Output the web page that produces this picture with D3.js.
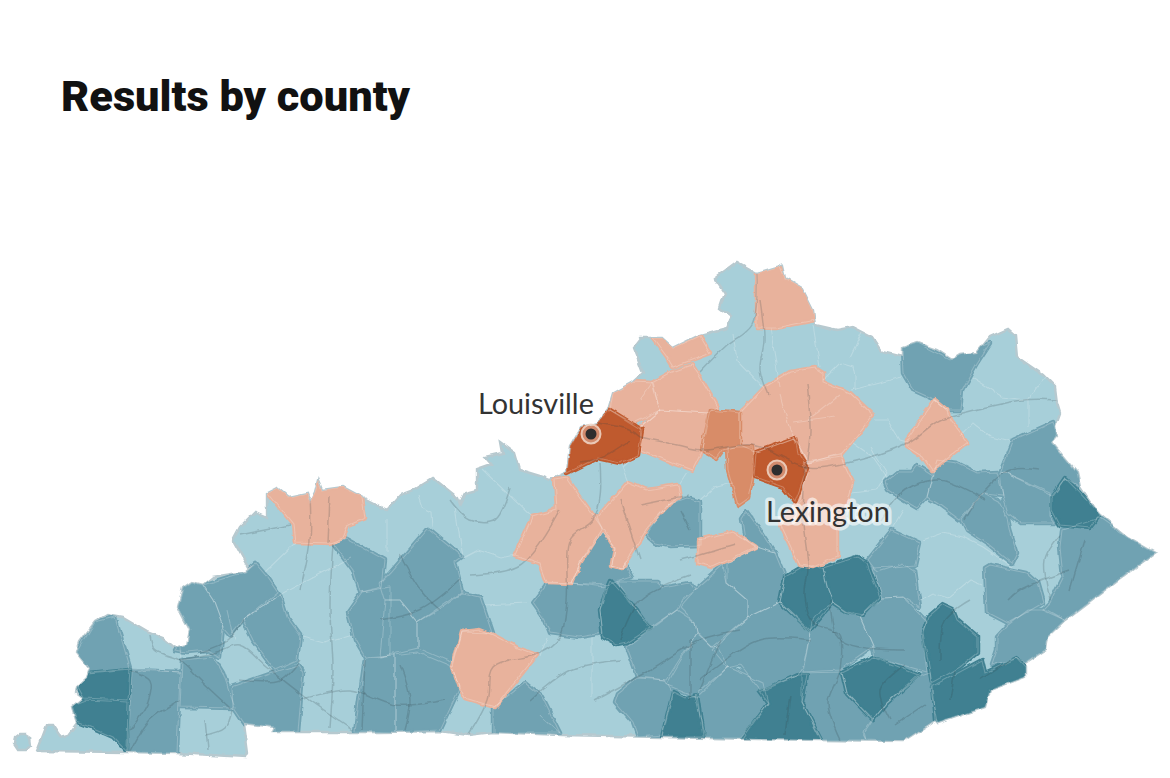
<!DOCTYPE html>
<html>
<head>
<meta charset="utf-8">
<script src="https://cdn.jsdelivr.net/npm/d3@7"></script>
<style>
  body { margin: 0; background: #fff; }
  text { font-family: Lato, sans-serif; }
</style>
</head>
<body>
<svg id="chart"></svg>
<script>
// Kentucky county results in map units.
// anything not listed in a margin array falls in the light blue bin (the state fill)
const stateOutline = [[37,751],[47,725],[52,725],[60,737],[68,735],[77,723],[72,707],[83,698],[76,693],[77,687],[87,678],[90,668],[77,652],[80,642],[95,622],[107,615],[123,618],[147,632],[163,638],[175,648],[187,645],[190,630],[178,607],[183,588],[192,582],[203,585],[213,577],[245,572],[255,563],[248,567],[233,540],[240,527],[255,512],[267,517],[267,493],[277,488],[288,497],[307,493],[310,502],[315,492],[318,480],[322,490],[343,487],[358,495],[387,510],[400,495],[413,490],[433,478],[438,482],[458,498],[460,503],[465,493],[477,490],[477,470],[492,465],[485,457],[502,453],[500,442],[515,453],[520,470],[543,477],[550,480],[567,472],[570,447],[582,427],[597,423],[608,410],[613,393],[633,382],[643,373],[637,357],[633,347],[640,338],[662,338],[673,348],[700,335],[727,328],[732,317],[720,308],[725,293],[715,278],[737,262],[757,273],[777,267],[782,265],[785,278],[802,288],[813,310],[815,325],[837,330],[853,327],[872,337],[882,352],[902,357],[902,348],[917,343],[937,350],[952,360],[960,355],[977,353],[990,337],[1008,329],[1015,335],[1017,357],[1043,375],[1055,387],[1057,403],[1060,413],[1055,427],[1057,437],[1052,443],[1077,473],[1080,487],[1093,507],[1100,515],[1127,537],[1155,553],[1127,573],[1065,620],[1047,637],[1045,650],[1025,663],[1025,677],[990,690],[985,707],[938,723],[935,720],[903,741],[822,740],[760,739],[562,735],[493,732],[468,735],[440,731],[380,732],[298,732],[273,732],[275,727],[243,723],[247,753],[245,757],[177,753],[128,752]];
const kentuckyBend = [[15,737],[19,734],[25,734],[30,737],[31,745],[26,750],[18,750],[14,744]];

const blueMid = [
  [[77,652],[95,622],[115,617],[130,668],[90,672]],
  [[132,670],[180,672],[177,753],[128,752]],
  [[182,660],[213,657],[223,673],[235,708],[180,707]],
  [[178,607],[183,588],[192,582],[203,585],[213,600],[223,627],[220,657],[207,650],[187,652],[175,650],[190,630]],
  [[203,585],[245,572],[255,563],[267,577],[278,593],[243,620],[230,635],[223,627],[213,600]],
  [[243,620],[280,595],[287,617],[300,635],[297,660],[275,670],[253,640]],
  [[232,687],[275,672],[298,665],[303,673],[298,732],[275,732],[275,727],[243,723],[233,708]],
  [[365,658],[395,655],[395,732],[355,731]],
  [[395,655],[417,652],[453,667],[460,687],[440,730],[395,732]],
  [[333,543],[347,539],[385,560],[382,587],[360,592],[353,570]],
  [[348,612],[362,592],[390,587],[390,655],[365,657],[355,640]],
  [[380,583],[390,573],[410,550],[428,529],[462,557],[455,562],[462,592],[418,622],[400,600],[385,600]],
  [[385,600],[400,600],[418,622],[418,648],[380,657]],
  [[462,593],[480,597],[492,633],[462,632],[453,663],[418,648],[418,622],[443,607]],
  [[493,707],[525,683],[542,697],[560,733],[493,733]],
  [[602,532],[615,547],[612,565],[622,568],[625,563],[632,577],[607,585],[572,583],[580,563]],
  [[533,603],[548,583],[572,583],[605,587],[600,610],[603,633],[580,637],[550,633],[545,620]],
  [[618,582],[657,582],[663,588],[690,583],[695,590],[682,600],[677,610],[652,627],[637,610],[620,587]],
  [[627,647],[650,630],[677,610],[695,622],[697,633],[667,680],[638,677]],
  [[680,607],[695,590],[723,565],[727,583],[747,600],[747,618],[712,647],[697,632],[695,622]],
  [[646,535],[667,505],[687,498],[700,502],[700,545],[670,546],[655,543]],
  [[727,563],[757,547],[775,553],[785,577],[780,602],[747,618],[747,600],[727,583]],
  [[747,512],[760,530],[775,553],[757,547],[745,540],[742,520]],
  [[712,650],[747,618],[780,602],[810,632],[803,667],[798,675],[760,690],[740,665],[727,668]],
  [[718,648],[728,667],[697,697],[667,685],[697,633],[712,647]],
  [[637,678],[665,680],[672,692],[662,735],[638,737],[633,723],[615,702],[618,693]],
  [[695,695],[728,667],[763,683],[768,703],[740,738],[705,738]],
  [[802,673],[842,672],[847,693],[872,720],[863,732],[867,740],[822,740],[802,703]],
  [[865,732],[873,720],[887,703],[918,677],[930,673],[932,697],[937,723],[905,742],[867,740]],
  [[803,672],[812,622],[822,610],[833,603],[847,613],[860,617],[873,647],[840,670]],
  [[860,617],[883,598],[903,597],[927,622],[922,633],[927,672],[875,657],[873,647]],
  [[872,568],[893,567],[903,563],[915,570],[920,607],[903,597],[883,598]],
  [[868,560],[892,530],[920,543],[915,565],[893,567],[877,572]],
  [[985,568],[990,565],[1027,573],[1037,582],[1043,603],[1008,623],[987,612]],
  [[997,637],[1008,625],[1028,610],[1047,610],[1065,620],[1047,637],[1045,650],[1025,663],[1017,658],[992,665],[997,650]],
  [[1062,530],[1100,518],[1127,537],[1155,553],[1127,573],[1065,620],[1043,610],[1050,603],[1063,577],[1060,547]],
  [[1000,473],[1005,472],[1050,492],[1050,517],[1055,523],[1020,523],[1008,513],[1003,497]],
  [[1000,473],[1013,440],[1053,422],[1057,437],[1052,443],[1077,473],[1080,487],[1065,478],[1052,495],[1005,472]],
  [[927,497],[933,473],[937,460],[957,463],[977,473],[997,472],[1003,495],[983,493],[960,520],[937,503]],
  [[885,482],[897,472],[912,472],[917,465],[933,475],[927,497],[917,508],[900,498],[888,490]],
  [[962,520],[983,493],[1000,502],[1008,517],[1010,530],[1017,553],[1012,563],[987,543],[967,530]],
  [[902,348],[917,343],[950,360],[960,355],[990,343],[977,363],[962,390],[960,410],[947,410],[935,400],[913,390],[903,373]]
];
const blueDark = [
  [[77,687],[88,673],[130,669],[128,700],[83,698]],
  [[72,705],[85,700],[128,702],[127,752],[113,737],[90,727],[77,722]],
  [[610,580],[637,610],[650,628],[627,643],[617,645],[603,637],[600,610],[607,587]],
  [[802,567],[823,568],[828,590],[833,603],[810,630],[780,602],[785,577]],
  [[823,568],[857,557],[867,563],[880,597],[863,615],[847,612],[833,603],[827,587]],
  [[673,692],[685,698],[697,695],[703,737],[662,737]],
  [[768,703],[760,692],[798,675],[807,675],[802,703],[822,742],[740,742]],
  [[842,672],[873,657],[918,675],[887,703],[873,720],[847,693]],
  [[932,687],[982,660],[985,673],[1017,658],[1025,667],[1025,677],[990,690],[985,707],[938,723],[935,720]],
  [[942,605],[953,610],[957,620],[977,637],[977,653],[960,667],[943,677],[932,683],[923,633],[928,617]],
  [[1052,497],[1065,478],[1077,490],[1100,515],[1090,528],[1060,525],[1052,510]]
];
const orangeLight = [
  [[267,493],[277,488],[288,497],[307,493],[310,502],[315,492],[318,480],[322,490],[343,487],[362,497],[365,518],[348,525],[343,538],[330,543],[295,542],[293,525]],
  [[462,632],[480,630],[493,635],[518,648],[537,655],[527,667],[495,707],[465,698],[460,688],[453,667]],
  [[532,517],[557,510],[555,480],[567,478],[580,497],[593,515],[602,528],[580,563],[572,583],[547,582],[540,563],[515,555]],
  [[597,518],[628,482],[647,490],[678,485],[680,497],[670,503],[647,528],[622,568],[612,565],[615,548],[602,528]],
  [[698,540],[732,532],[755,547],[728,560],[713,567],[698,563]],
  [[613,393],[633,382],[653,383],[660,410],[633,423],[610,410]],
  [[640,427],[660,410],[707,413],[702,450],[692,470],[673,463],[642,450]],
  [[652,383],[670,373],[692,365],[700,377],[718,407],[707,413],[660,410]],
  [[653,338],[663,338],[673,348],[700,336],[710,353],[673,367],[667,357]],
  [[740,413],[765,387],[790,372],[815,368],[823,373],[823,382],[850,393],[873,415],[853,440],[842,453],[808,463],[795,438],[757,452],[740,445]],
  [[803,463],[840,455],[853,483],[848,500],[837,530],[837,557],[813,567],[800,565],[780,523],[800,500],[808,473]],
  [[757,273],[780,266],[785,278],[803,288],[813,310],[815,320],[775,328],[757,328]],
  [[907,440],[935,400],[947,410],[950,420],[967,442],[932,470],[923,457],[907,447]]
];
const orangeMid = [
  [[710,410],[740,413],[740,445],[723,450],[717,458],[702,450],[707,423]],
  [[727,447],[753,447],[755,467],[748,498],[738,505],[728,470]]
];
const orangeDark = [
  [[610,410],[642,430],[638,455],[620,463],[597,458],[567,473],[570,447],[582,427],[597,423]],
  [[755,477],[757,452],[795,438],[798,453],[807,467],[802,483],[795,502],[783,487],[763,480]]
];

// county lines inside same-colored stretches
const countyLines = [
  [[295,543],[265,572]],[[350,558],[283,593],[243,620]],[[302,637],[325,643],[353,635]],
  [[483,470],[532,517]],[[455,508],[463,557]],[[418,495],[422,507],[432,512],[433,527]],
  [[387,520],[387,553]],[[463,558],[478,550],[502,558],[515,555]],[[485,605],[527,603]],
  [[592,637],[592,697]],[[547,637],[540,657]],[[628,482],[622,467],[633,457]],
  [[680,483],[687,472]],[[700,500],[713,488],[733,483]],[[770,328],[780,387]],
  [[813,325],[820,367]],[[823,380],[840,363],[853,367],[855,377],[855,390]],
  [[852,390],[902,377]],[[862,332],[850,357]],[[972,378],[1002,397],[1027,400],[1045,377]],
  [[1028,400],[1028,425]],[[875,420],[888,420],[900,440],[907,442]],
  [[853,443],[873,457],[887,477]],[[960,437],[973,423],[990,437],[1010,442]],
  [[733,333],[737,360],[763,387]],[[923,540],[942,533],[963,537],[983,547],[1013,567]],
  [[920,600],[933,593],[948,598],[970,580],[982,585]],[[903,510],[893,527]],
  [[840,457],[808,463]],[[853,493],[877,490],[887,473],[870,447]],[[180,635],[182,660]],
  [[130,668],[180,672]],[[228,610],[235,640]],[[540,715],[560,733]],[[640,400],[652,383]],
  [[660,410],[640,427]],[[780,395],[790,430],[808,463]],[[808,420],[840,395]],[[793,423],[835,417]]
];

// highways and parkways
const roads = [
  [[180,660],[213,653],[240,645],[267,667],[300,693],[353,730]],
  [[333,543],[330,610],[333,667],[330,727]],
  [[150,635],[155,650],[180,660],[200,680],[230,708]],
  [[600,463],[600,497],[593,520],[570,540],[567,600],[560,637],[540,653],[493,667],[487,700],[468,735]],
  [[640,437],[677,445],[703,450],[753,445],[808,467],[847,463],[907,443],[940,420],[967,412],[1023,400],[1057,400]],
  [[807,383],[810,433],[803,490],[803,523],[808,567],[805,597],[813,623],[838,633],[840,670],[828,703],[840,740]],
  [[700,372],[727,345],[752,325],[757,273]],
  [[597,423],[630,430],[640,437]],[[580,462],[600,458],[630,440]],
  [[760,300],[764,340],[760,370],[768,395]],
  [[243,620],[228,640],[200,652]],[[310,495],[310,540],[300,590]],
  [[330,495],[328,543]],[[240,535],[265,530],[290,525]],
  [[130,670],[150,680],[148,702],[130,730]],[[180,700],[150,720],[130,752]],
  [[205,720],[208,750]],[[232,710],[225,728],[205,735]],
  [[240,680],[280,680],[300,660]],[[300,700],[350,690],[395,705],[445,700]],
  [[400,665],[410,700],[405,730]],[[365,660],[362,730]],
  [[400,555],[420,590],[440,610]],[[380,620],[420,610],[460,580]],
  [[470,575],[520,565],[560,510]],[[510,488],[495,520],[470,520],[450,500]],
  [[620,640],[640,600],[690,575]],[[595,700],[650,670],[700,640],[740,630]],
  [[530,700],[570,670],[620,660]],[[680,560],[700,555],[735,545]],
  [[620,500],[640,560]],[[640,505],[690,495]],[[690,640],[690,700]],
  [[700,680],[760,640],[810,640]],[[830,600],[840,640],[905,650]],
  [[880,520],[905,490],[940,480],[985,500]],[[965,520],[985,490],[1010,470],[1040,470]],
  [[1008,600],[1020,590],[1070,570]],[[1070,590],[1085,540]],[[1050,600],[1045,560],[1060,535]],
  [[940,660],[945,620],[970,600]],[[980,680],[1010,660]],[[955,670],[950,700]],
  [[890,720],[880,690],[905,665]],[[925,705],[895,725]],
  [[790,695],[785,735]],[[700,690],[720,640]],[[680,510],[690,530]]
];

const cityNames = ['Louisville', 'Lexington'];
const cityPoints = [[591,434],[777,470]];
const titleText = 'Results by county';

const w = 1170, h = 778;
const chart = d3.select('#chart').attr('width', w).attr('height', h);

const xScale = d3.scaleLinear().domain([0, 1170]).range([0, w]);
const yScale = d3.scaleLinear().domain([0, 778]).range([0, h]);

const closed = d3.line().x(d => xScale(d[0])).y(d => yScale(d[1])).curve(d3.curveLinearClosed);
const border = d3.line().x(d => xScale(d[0])).y(d => yScale(d[1]));
const open = d3.line().x(d => xScale(d[0])).y(d => yScale(d[1])).curve(d3.curveCatmullRom);

const defs = chart.append('defs');
defs.append('clipPath').attr('id', 'state').append('path').attr('d', closed(stateOutline));

// the county edges in the original are wiggly rivers and ridges, not straight segments
const soft = defs.append('filter').attr('id', 'soft')
  .attr('filterUnits', 'userSpaceOnUse')
  .attr('x', 0).attr('y', 0).attr('width', w).attr('height', h);
soft.append('feTurbulence').attr('type', 'fractalNoise').attr('baseFrequency', 0.08).attr('numOctaves', 2).attr('seed', 4).attr('result', 'noise');
soft.append('feDisplacementMap').attr('in', 'SourceGraphic').attr('in2', 'noise').attr('scale', 5).attr('xChannelSelector', 'R').attr('yChannelSelector', 'G').attr('result', 'moved');
soft.append('feGaussianBlur').attr('in', 'moved').attr('stdDeviation', 0.45);

chart.append('text')
  .attr('x', 61).attr('y', 111)
  .attr('font-size', 42).attr('font-weight', 900)
  .attr('textLength', 349).attr('lengthAdjust', 'spacingAndGlyphs')
  .style('font-family', 'Roboto, sans-serif')
  .attr('fill', '#111')
  .text(titleText);

const map = chart.append('g').attr('filter', 'url(#soft)');

// state base, also the light blue bin
map.selectAll('path.state')
  .data([stateOutline, kentuckyBend])
  .enter().append('path')
  .attr('class', 'state')
  .attr('d', closed)
  .attr('fill', '#a7cfd9')
  .attr('stroke', '#b7c9cf')
  .attr('stroke-width', 2.4);

const counties = map.append('g').attr('clip-path', 'url(#state)');

const bins = [
  [blueMid, '#70a2b2'],
  [blueDark, '#3f8091'],
  [orangeLight, '#e8b29c'],
  [orangeMid, '#d88c68'],
  [orangeDark, '#bf5a2e']
];

// same-color stroke closes the small gaps left between traced neighbours
bins.forEach(([rings, color]) => {
  counties.append('g').selectAll('path')
    .data(rings)
    .enter().append('path')
    .attr('d', closed)
    .attr('fill', color)
    .attr('stroke', color)
    .attr('stroke-width', 4.5)
    .attr('stroke-linejoin', 'round');
});

counties.append('g').selectAll('path')
  .data(countyLines.concat(...bins.map(b => b[0].map(r => r.concat([r[0]])))))
  .enter().append('path')
  .attr('d', border)
  .attr('fill', 'none')
  .attr('stroke', 'rgba(255,255,255,0.22)')
  .attr('stroke-width', 1.1);

counties.append('g').selectAll('path')
  .data(roads)
  .enter().append('path')
  .attr('d', open)
  .attr('fill', 'none')
  .attr('stroke', 'rgba(50,65,72,0.2)')
  .attr('stroke-width', 1.5);

// cities
const cities = chart.append('g').selectAll('g')
  .data(cityPoints)
  .enter().append('g')
  .attr('transform', d => `translate(${xScale(d[0])},${yScale(d[1])})`);
cities.append('circle').attr('r', 9.5).attr('fill', 'rgba(255,255,255,0.3)').attr('stroke', 'rgba(240,215,200,0.85)').attr('stroke-width', 2);
cities.append('circle').attr('r', 5.5).attr('fill', '#2e2e2e');

chart.append('text')
  .attr('x', 478).attr('y', 414)
  .attr('font-size', 28.8).attr('fill', '#333')
  .text(cityNames[0]);
chart.append('text')
  .attr('x', 766).attr('y', 522)
  .attr('font-size', 28.8).attr('fill', '#333')
  .attr('stroke', 'rgba(255,255,255,0.6)').attr('stroke-width', 7)
  .attr('stroke-linejoin', 'round')
  .style('paint-order', 'stroke')
  .text(cityNames[1]);
</script>
</body>
</html>
